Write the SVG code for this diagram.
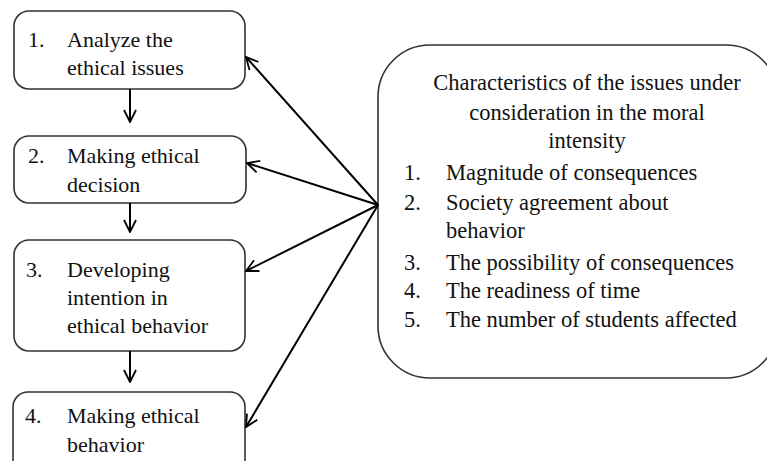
<svg xmlns="http://www.w3.org/2000/svg" width="767" height="461" viewBox="0 0 767 461">
<defs>
<marker id="arr" viewBox="0 0 14 14" refX="13" refY="7" markerWidth="14" markerHeight="14" markerUnits="userSpaceOnUse" orient="auto">
<path d="M1,1 L13,7 L1,13" fill="none" stroke="#000" stroke-width="1.8"/>
</marker>
<style>
.box{fill:#fff;stroke:#333;stroke-width:1.6}
text{font-family:"Liberation Serif","Times New Roman",serif;font-size:22px;fill:#111}
.r{font-size:22.5px}
.c{text-anchor:middle}
.ln{stroke:#000;stroke-width:2;fill:none;marker-end:url(#arr)}
</style>
</defs>
<rect width="767" height="461" fill="#fff"/>
<g id="node1">
<rect class="box" x="14" y="11" width="231" height="78" rx="15"/>
<text x="28" y="47">1.</text><text x="67" y="47">Analyze the</text>
<text x="67" y="75">ethical issues</text>
</g>
<g id="node2">
<rect class="box" x="14" y="136" width="232" height="67" rx="15"/>
<text x="28" y="163">2.</text><text x="67" y="163">Making ethical</text>
<text x="67" y="192">decision</text>
</g>
<g id="node3">
<rect class="box" x="14" y="240" width="231" height="111" rx="15"/>
<text x="26" y="277">3.</text><text x="67" y="277">Developing</text>
<text x="67" y="305">intention in</text>
<text x="67" y="333">ethical behavior</text>
</g>
<g id="node4">
<rect class="box" x="13" y="392" width="232" height="90" rx="15"/>
<text x="25" y="423">4.</text><text x="67" y="423">Making ethical</text>
<text x="67" y="452">behavior</text>
</g>
<g id="node5">
<rect class="box" x="378" y="45" width="400" height="333" rx="52"/>
<text class="r c" x="587" y="90">Characteristics of the issues under</text>
<text class="r c" x="587" y="120">consideration in the moral</text>
<text class="r c" x="587" y="148">intensity</text>
<text class="r" x="404" y="180">1.</text><text class="r" x="446" y="180">Magnitude of consequences</text>
<text class="r" x="404" y="210">2.</text><text class="r" x="446" y="210">Society agreement about</text>
<text class="r" x="446" y="238">behavior</text>
<text class="r" x="404" y="270">3.</text><text class="r" x="446" y="270">The possibility of consequences</text>
<text class="r" x="404" y="298">4.</text><text class="r" x="446" y="298">The readiness of time</text>
<text class="r" x="404" y="327">5.</text><text class="r" x="446" y="327">The number of students affected</text>
</g>
<g id="connectors">
<line class="ln" x1="130" y1="89" x2="130" y2="122"/>
<line class="ln" x1="130" y1="203" x2="130" y2="232"/>
<line class="ln" x1="130" y1="351" x2="130" y2="382"/>
<line class="ln" x1="378" y1="205" x2="246" y2="57"/>
<line class="ln" x1="378" y1="205" x2="247" y2="163"/>
<line class="ln" x1="378" y1="205" x2="246" y2="271"/>
<line class="ln" x1="378" y1="205" x2="246" y2="427"/>
</g>
</svg>
